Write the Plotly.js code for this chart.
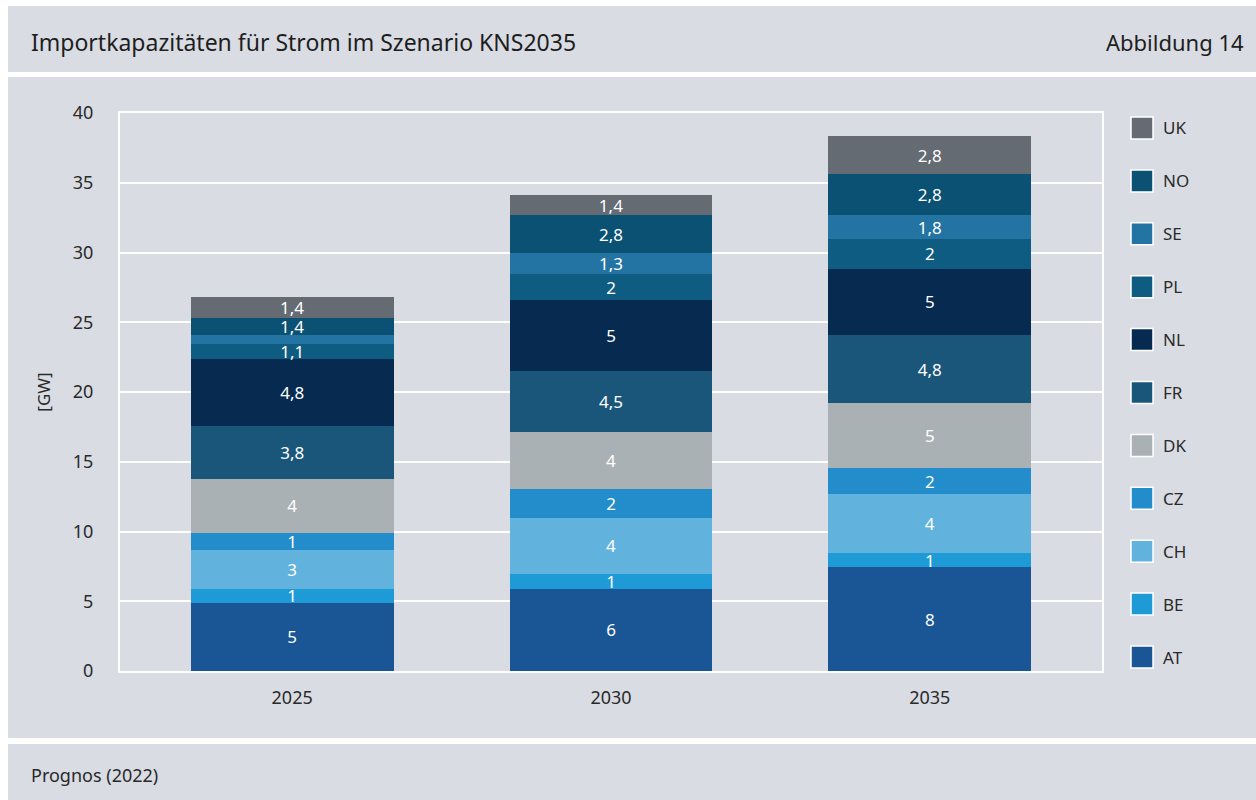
<!DOCTYPE html>
<html>
<head>
<meta charset="utf-8">
<script src="https://cdn.plot.ly/plotly-3.0.1.min.js"></script>
<style>
html,body{margin:0;padding:0;background:#ffffff;}
#chart{width:1256px;height:800px;}
</style>
</head>
<body>
<div id="chart"></div>
<script>
// Categories
const years = ['2025', '2030', '2035'];

const AT = [4.90, 5.90, 7.43];
const BE = [0.98, 1.07, 1.00];
const CH = [2.80, 4.02, 4.25];
const CZ = [1.24, 2.08, 1.86];
const DK = [3.83, 4.04, 4.64];
const FR = [3.82, 4.41, 4.90];
const NL = [4.78, 5.05, 4.75];
const PL = [1.08, 1.87, 2.15];
const SE = [0.67, 1.52, 1.68];
const NO = [1.19, 2.71, 2.94];
const UK = [1.51, 1.45, 2.76];

// Printed labels
const AT_lbl = ['5', '6', '8'];
const BE_lbl = ['1', '1', '1'];
const CH_lbl = ['3', '4', '4'];
const CZ_lbl = ['1', '2', '2'];
const DK_lbl = ['4', '4', '5'];
const FR_lbl = ['3,8', '4,5', '4,8'];
const NL_lbl = ['4,8', '5', '5'];
const PL_lbl = ['1,1', '2', '2'];
const SE_lbl = ['', '1,3', '1,8'];
const NO_lbl = ['1,4', '2,8', '2,8'];
const UK_lbl = ['1,4', '1,4', '2,8'];

const yTicks = [0, 5, 10, 15, 20, 25, 30, 35, 40];

const series = [
  {name: 'AT', y: AT, text: AT_lbl, color: '#1a5595'},
  {name: 'BE', y: BE, text: BE_lbl, color: '#1e9bd7'},
  {name: 'CH', y: CH, text: CH_lbl, color: '#62b2de'},
  {name: 'CZ', y: CZ, text: CZ_lbl, color: '#228dca'},
  {name: 'DK', y: DK, text: DK_lbl, color: '#a9b1b5'},
  {name: 'FR', y: FR, text: FR_lbl, color: '#1a5679'},
  {name: 'NL', y: NL, text: NL_lbl, color: '#072a51'},
  {name: 'PL', y: PL, text: PL_lbl, color: '#0e5c82'},
  {name: 'SE', y: SE, text: SE_lbl, color: '#2474a3'},
  {name: 'NO', y: NO, text: NO_lbl, color: '#0a5173'},
  {name: 'UK', y: UK, text: UK_lbl, color: '#646b73'}
];

const FONT = 'Noto Sans, Open Sans, sans-serif';
const BG = '#d9dce3';

const traces = series.map(s => ({
  type: 'bar',
  name: s.name,
  x: years,
  y: s.y,
  text: s.text,
  textposition: 'inside',
  insidetextanchor: 'middle',
  textangle: 0,
  textfont: {family: FONT, size: 17, color: '#ffffff'},
  marker: {color: s.color, line: {width: 0}},
  hoverinfo: 'name+y',
  showlegend: false,
  cliponaxis: false
}));

// Plot area in pixels: x 120..1102, y 113..671
const L = 120, R = 1102, T = 113, B = 671;
const px = v => (v - L) / (R - L);
const py = v => (B - v) / (B - T);

const shapes = [
  // header panel
  {type: 'rect', xref: 'paper', yref: 'paper', x0: px(8), x1: px(1256), y0: py(6), y1: py(72), fillcolor: BG, line: {width: 0}, layer: 'below'},
  // main panel
  {type: 'rect', xref: 'paper', yref: 'paper', x0: px(8), x1: px(1256), y0: py(77), y1: py(738), fillcolor: BG, line: {width: 0}, layer: 'below'},
  // footer panel
  {type: 'rect', xref: 'paper', yref: 'paper', x0: px(8), x1: px(1256), y0: py(744), y1: py(800), fillcolor: BG, line: {width: 0}, layer: 'below'}
];

const annotations = [
  {xref: 'paper', yref: 'paper', x: px(29), y: py(42), xanchor: 'left', yanchor: 'middle', showarrow: false,
   text: 'Importkapazitäten für Strom im Szenario KNS2035', font: {family: FONT, size: 23, color: '#1e1e1e'}},
  {xref: 'paper', yref: 'paper', x: px(1246), y: py(42), xanchor: 'right', yanchor: 'middle', showarrow: false,
   text: 'Abbildung 14', font: {family: FONT, size: 22, color: '#1e1e1e'}},
  {xref: 'paper', yref: 'paper', x: px(29), y: py(775), xanchor: 'left', yanchor: 'middle', showarrow: false,
   text: 'Prognos (2022)', font: {family: FONT, size: 18, color: '#2a2a2a'}}
];

// Custom legend (top to bottom: UK ... AT)
const legendOrder = series.slice().reverse();
const legTop = 128, legStep = 52.9;
legendOrder.forEach((s, i) => {
  const cy = legTop + i * legStep;
  shapes.push({type: 'rect', xref: 'paper', yref: 'paper',
    x0: px(1131), x1: px(1153), y0: py(cy + 11), y1: py(cy - 11),
    fillcolor: s.color, line: {color: '#ffffff', width: 1.5}});
  annotations.push({xref: 'paper', yref: 'paper', x: px(1161), y: py(cy), xanchor: 'left', yanchor: 'middle',
    showarrow: false, text: s.name, font: {family: FONT, size: 17, color: '#2a2a2a'}});
});

const layout = {
  width: 1256,
  height: 800,
  margin: {l: L, r: 1256 - R, t: T, b: 800 - B, pad: 0},
  paper_bgcolor: '#ffffff',
  plot_bgcolor: 'rgba(0,0,0,0)',
  barmode: 'stack',
  bargap: 0.364,
  uniformtext: {mode: 'show', minsize: 17},
  font: {family: FONT, size: 17, color: '#2a2a2a'},
  xaxis: {
    type: 'category',
    range: [-0.54, 2.54],
    showgrid: false,
    zeroline: false,
    showline: true, linecolor: '#ffffff', linewidth: 2, mirror: true,
    ticks: 'outside', ticklen: 9, tickcolor: 'rgba(0,0,0,0)',
    tickfont: {family: FONT, size: 18, color: '#2a2a2a'}
  },
  yaxis: {
    range: [0, 40],
    tickvals: yTicks,
    ticktext: yTicks.map(String),
    showgrid: true, gridcolor: '#ffffff', gridwidth: 2,
    zeroline: false,
    showline: true, linecolor: '#ffffff', linewidth: 2, mirror: true,
    ticks: 'outside', ticklen: 21, tickcolor: 'rgba(0,0,0,0)',
    tickfont: {family: FONT, size: 18, color: '#2a2a2a'},
    title: {text: '[GW]', font: {family: FONT, size: 17, color: '#2a2a2a'}, standoff: 18}
  },
  shapes: shapes,
  annotations: annotations,
  showlegend: false
};

Plotly.newPlot('chart', traces, layout, {displayModeBar: false, staticPlot: true});
</script>
</body>
</html>
